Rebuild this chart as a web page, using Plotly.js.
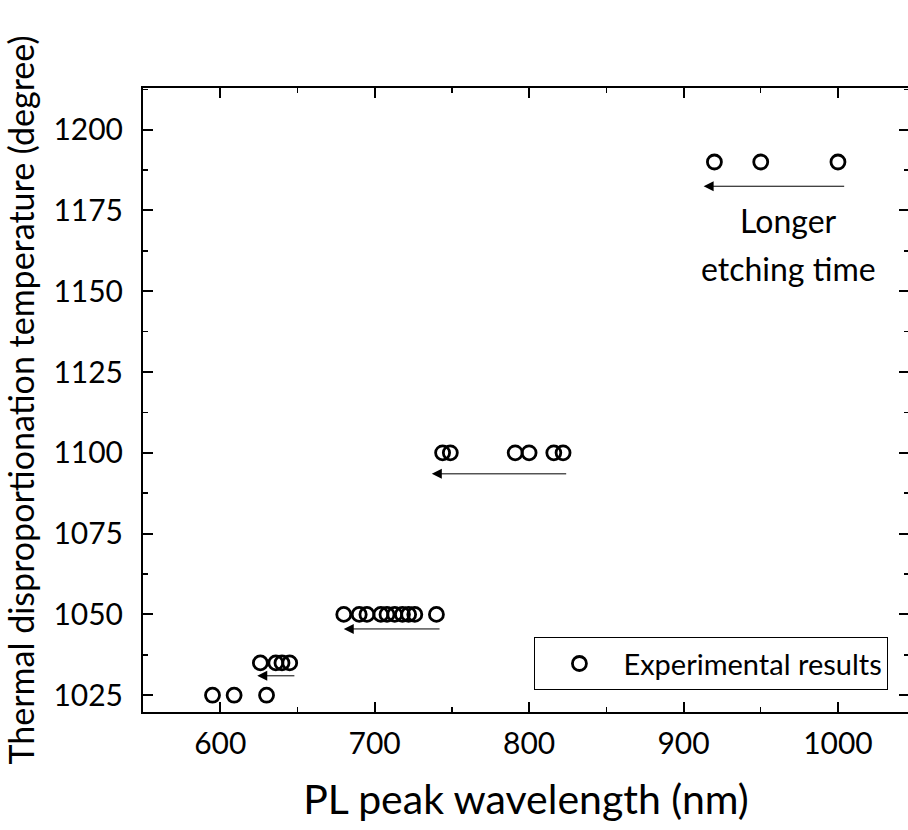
<!DOCTYPE html>
<html><head><meta charset="utf-8">
<script src="https://cdn.plot.ly/plotly-3.0.1.min.js"></script>
<style>html,body{margin:0;padding:0;overflow:hidden;background:#fff}#chart{width:910px;height:830px}</style>
</head><body><div id="chart"></div>
<script>
// Data
const wavelength = [920, 950, 1000,
  744, 749, 791, 800, 816, 822,
  680, 690, 695, 704, 708, 713, 718, 722, 726, 740,
  626, 636, 640, 645,
  595, 609, 630];
const temperature = [1190, 1190, 1190,
  1100, 1100, 1100, 1100, 1100, 1100,
  1050, 1050, 1050, 1050, 1050, 1050, 1050, 1050, 1050, 1050,
  1035, 1035, 1035, 1035,
  1025, 1025, 1025];
const seriesName = 'Experimental results';
// Arrows: tail (right) -> head (left)
const arrowTailX = [1005, 825, 743, 649];
const arrowHeadX = [913, 737, 680, 624];
const arrowY = [1182.5, 1093.5, 1045.5, 1031];
const noteLines = ['Longer', 'etching time'];
const noteX = [968, 968];
const noteY = [1172, 1157];
const xTicks = [600, 700, 800, 900, 1000];
const yTicks = [1025, 1050, 1075, 1100, 1125, 1150, 1175, 1200];

const font = 'Lato, "Open Sans", sans-serif';
const annotations = [];
for (let i = 0; i < arrowY.length; i++) {
  annotations.push({x: arrowHeadX[i], y: arrowY[i], ax: arrowTailX[i], ay: arrowY[i],
    xref: 'x', yref: 'y', axref: 'x', ayref: 'y', text: '', showarrow: true,
    arrowhead: 2, arrowsize: 2, arrowwidth: 1, arrowcolor: '#000', standoff: 0, startstandoff: 0});
}
for (let i = 0; i < noteLines.length; i++) {
  annotations.push({x: noteX[i], y: noteY[i], xref: 'x', yref: 'y', text: noteLines[i],
    showarrow: false, font: {family: font, size: 32, color: '#000'}});
}
const axisCommon = {showline: true, linewidth: 2, linecolor: '#000', mirror: 'ticks',
  ticks: 'inside', ticklen: 10, tickwidth: 2, tickcolor: '#000', showgrid: false, zeroline: false,
  tickfont: {family: font, size: 30, color: '#000'},
  minor: {ticks: 'inside', ticklen: 5, tickwidth: 1.5, tickcolor: '#000', showgrid: false}};
Plotly.newPlot('chart', [{
  x: wavelength, y: temperature, type: 'scatter', mode: 'markers', name: seriesName,
  marker: {symbol: 'circle-open', size: 14, color: '#000', line: {width: 2.8, color: '#000'}},
  showlegend: true
}], {
  width: 910, height: 830,
  margin: {l: 143, r: 1, t: 88, b: 118},
  paper_bgcolor: '#fff', plot_bgcolor: '#fff',
  xaxis: Object.assign({}, axisCommon, {range: [550, 1046], tickvals: xTicks, ticktext: xTicks.map(String),
    minor: Object.assign({}, axisCommon.minor, {dtick: 50, tick0: 550}),
    ticklabelstandoff: 4,
    title: {text: 'PL peak wavelength (nm)', font: {family: font, size: 41, color: '#000'}, standoff: 26}}),
  yaxis: Object.assign({}, axisCommon, {range: [1019.8, 1212.9], tickvals: yTicks, ticktext: yTicks.map(String),
    minor: Object.assign({}, axisCommon.minor, {dtick: 12.5, tick0: 1025}),
    ticklabelstandoff: 12,
    title: {text: 'Thermal disproportionation temperature (degree)', font: {family: font, size: 34, color: '#000'}, standoff: 8}}),
  legend: {x: 0.511, y: 0.035, xanchor: 'left', yanchor: 'bottom', bordercolor: '#000', borderwidth: 1,
    itemwidth: 78,
    bgcolor: '#fff', font: {family: font, size: 29, color: '#000'}},
  annotations: annotations
}, {displayModeBar: false, staticPlot: true});
</script></body></html>
